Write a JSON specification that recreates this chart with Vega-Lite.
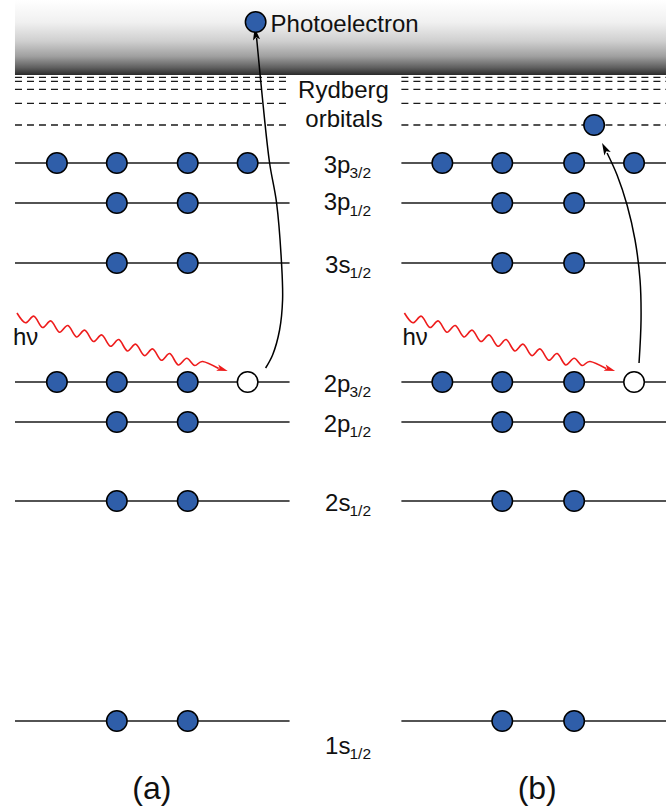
{
  "$schema": "https://vega.github.io/schema/vega-lite/v6.json",
  "width": 667,
  "height": 807,
  "padding": 0,
  "autosize": {"type": "fit", "contains": "padding"},
  "config": {"view": {"stroke": null}, "text": {"font": "Liberation Sans"}},
  "datasets": {
    "band": [{"x": 15, "x2": 667, "y": 0, "y2": 75}],
    "dashed": [
      {"x": 15, "x2": 288, "y": 77.3}, {"x": 15, "x2": 288, "y": 81.3}, {"x": 15, "x2": 288, "y": 89.3}, {"x": 15, "x2": 288, "y": 103.3}, {"x": 15, "x2": 288, "y": 125},
      {"x": 402, "x2": 667, "y": 77.3}, {"x": 402, "x2": 667, "y": 81.3}, {"x": 402, "x2": 667, "y": 89.3}, {"x": 402, "x2": 667, "y": 103.3}, {"x": 402, "x2": 667, "y": 125}
    ],
    "levels": [
      {"x": 15, "x2": 290, "y": 163}, {"x": 15, "x2": 290, "y": 203}, {"x": 15, "x2": 290, "y": 263}, {"x": 15, "x2": 290, "y": 382}, {"x": 15, "x2": 290, "y": 422}, {"x": 15, "x2": 290, "y": 501}, {"x": 15, "x2": 290, "y": 721},
      {"x": 402, "x2": 667, "y": 163}, {"x": 402, "x2": 667, "y": 203}, {"x": 402, "x2": 667, "y": 263}, {"x": 402, "x2": 667, "y": 382}, {"x": 402, "x2": 667, "y": 422}, {"x": 402, "x2": 667, "y": 501}, {"x": 402, "x2": 667, "y": 721}
    ],
    "waves": [
      {"side": "a", "i": 0, "x": 17, "y": 313}, {"side": "a", "i": 1, "x": 25.5, "y": 322.8}, {"side": "a", "i": 2, "x": 34, "y": 316.2}, {"side": "a", "i": 3, "x": 42.5, "y": 327.5}, {"side": "a", "i": 4, "x": 51, "y": 320.9}, {"side": "a", "i": 5, "x": 59.5, "y": 332.2}, {"side": "a", "i": 6, "x": 68, "y": 325.5}, {"side": "a", "i": 7, "x": 76.5, "y": 336.9}, {"side": "a", "i": 8, "x": 85, "y": 330.2}, {"side": "a", "i": 9, "x": 93.5, "y": 341.5}, {"side": "a", "i": 10, "x": 102, "y": 334.9}, {"side": "a", "i": 11, "x": 110.5, "y": 346.2}, {"side": "a", "i": 12, "x": 119, "y": 339.6}, {"side": "a", "i": 13, "x": 127.5, "y": 350.9}, {"side": "a", "i": 14, "x": 136, "y": 344.2}, {"side": "a", "i": 15, "x": 144.5, "y": 355.6}, {"side": "a", "i": 16, "x": 153, "y": 348.9}, {"side": "a", "i": 17, "x": 161.5, "y": 360.2}, {"side": "a", "i": 18, "x": 170, "y": 353.6}, {"side": "a", "i": 19, "x": 178.5, "y": 364.9}, {"side": "a", "i": 20, "x": 187, "y": 358.3}, {"side": "a", "i": 21, "x": 195, "y": 365.5}, {"side": "a", "i": 22, "x": 203, "y": 361.5}, {"side": "a", "i": 23, "x": 219, "y": 368.5},
      {"side": "b", "i": 0, "x": 405, "y": 313}, {"side": "b", "i": 1, "x": 413.5, "y": 322.8}, {"side": "b", "i": 2, "x": 422, "y": 316.2}, {"side": "b", "i": 3, "x": 430.5, "y": 327.5}, {"side": "b", "i": 4, "x": 439, "y": 320.9}, {"side": "b", "i": 5, "x": 447.5, "y": 332.2}, {"side": "b", "i": 6, "x": 456, "y": 325.5}, {"side": "b", "i": 7, "x": 464.5, "y": 336.9}, {"side": "b", "i": 8, "x": 473, "y": 330.2}, {"side": "b", "i": 9, "x": 481.5, "y": 341.5}, {"side": "b", "i": 10, "x": 490, "y": 334.9}, {"side": "b", "i": 11, "x": 498.5, "y": 346.2}, {"side": "b", "i": 12, "x": 507, "y": 339.6}, {"side": "b", "i": 13, "x": 515.5, "y": 350.9}, {"side": "b", "i": 14, "x": 524, "y": 344.2}, {"side": "b", "i": 15, "x": 532.5, "y": 355.6}, {"side": "b", "i": 16, "x": 541, "y": 348.9}, {"side": "b", "i": 17, "x": 549.5, "y": 360.2}, {"side": "b", "i": 18, "x": 558, "y": 353.6}, {"side": "b", "i": 19, "x": 566.5, "y": 364.9}, {"side": "b", "i": 20, "x": 575, "y": 358.3}, {"side": "b", "i": 21, "x": 583, "y": 365.5}, {"side": "b", "i": 22, "x": 591, "y": 361.5}, {"side": "b", "i": 23, "x": 607, "y": 368.5}
    ],
    "arrows": [
      {"side": "a", "i": 0, "x": 266, "y": 368}, {"side": "a", "i": 1, "x": 273, "y": 355}, {"side": "a", "i": 2, "x": 280, "y": 330}, {"side": "a", "i": 3, "x": 283, "y": 300}, {"side": "a", "i": 4, "x": 282, "y": 264}, {"side": "a", "i": 5, "x": 277, "y": 203}, {"side": "a", "i": 6, "x": 270, "y": 163}, {"side": "a", "i": 7, "x": 263, "y": 100}, {"side": "a", "i": 8, "x": 257, "y": 38},
      {"side": "b", "i": 0, "x": 640, "y": 363}, {"side": "b", "i": 1, "x": 642, "y": 320}, {"side": "b", "i": 2, "x": 641, "y": 280}, {"side": "b", "i": 3, "x": 636, "y": 240}, {"side": "b", "i": 4, "x": 628, "y": 205}, {"side": "b", "i": 5, "x": 618, "y": 175}, {"side": "b", "i": 6, "x": 608, "y": 153}
    ],
    "headA": [{"x": 256, "y": 34}],
    "headB": [{"x": 605.7, "y": 148.4}],
    "headRed": [{"x": 222.8, "y": 369.3}, {"x": 610.8, "y": 369.3}],
    "electrons": [
      {"x": 57, "y": 163, "kind": "e"}, {"x": 117, "y": 163, "kind": "e"}, {"x": 188, "y": 163, "kind": "e"}, {"x": 248, "y": 163, "kind": "e"},
      {"x": 117, "y": 203, "kind": "e"}, {"x": 188, "y": 203, "kind": "e"},
      {"x": 117, "y": 263, "kind": "e"}, {"x": 188, "y": 263, "kind": "e"},
      {"x": 57, "y": 382, "kind": "e"}, {"x": 117, "y": 382, "kind": "e"}, {"x": 188, "y": 382, "kind": "e"}, {"x": 248, "y": 382, "kind": "h"},
      {"x": 117, "y": 422, "kind": "e"}, {"x": 188, "y": 422, "kind": "e"},
      {"x": 117, "y": 501, "kind": "e"}, {"x": 188, "y": 501, "kind": "e"},
      {"x": 117, "y": 721, "kind": "e"}, {"x": 188, "y": 721, "kind": "e"},
      {"x": 443, "y": 163, "kind": "e"}, {"x": 503, "y": 163, "kind": "e"}, {"x": 575, "y": 163, "kind": "e"}, {"x": 635, "y": 163, "kind": "e"},
      {"x": 503, "y": 203, "kind": "e"}, {"x": 575, "y": 203, "kind": "e"},
      {"x": 503, "y": 263, "kind": "e"}, {"x": 575, "y": 263, "kind": "e"},
      {"x": 443, "y": 382, "kind": "e"}, {"x": 503, "y": 382, "kind": "e"}, {"x": 575, "y": 382, "kind": "e"}, {"x": 635, "y": 382, "kind": "h"},
      {"x": 503, "y": 422, "kind": "e"}, {"x": 575, "y": 422, "kind": "e"},
      {"x": 503, "y": 501, "kind": "e"}, {"x": 575, "y": 501, "kind": "e"},
      {"x": 503, "y": 721, "kind": "e"}, {"x": 575, "y": 721, "kind": "e"},
      {"x": 595, "y": 125, "kind": "e"},
      {"x": 256, "y": 22, "kind": "e"}
    ],
    "mainLabels": [
      {"x": 351, "y": 173, "label": "3p"}, {"x": 351, "y": 210, "label": "3p"}, {"x": 351, "y": 273, "label": "3s"},
      {"x": 351, "y": 392, "label": "2p"}, {"x": 351, "y": 432, "label": "2p"}, {"x": 351, "y": 511, "label": "2s"}, {"x": 351, "y": 754, "label": "1s"}
    ],
    "subLabels": [
      {"x": 350, "y": 178, "label": "3/2"}, {"x": 350, "y": 216, "label": "1/2"}, {"x": 350, "y": 278, "label": "1/2"},
      {"x": 350, "y": 397, "label": "3/2"}, {"x": 350, "y": 437, "label": "1/2"}, {"x": 350, "y": 516, "label": "1/2"}, {"x": 350, "y": 759, "label": "1/2"}
    ],
    "centerText": [{"x": 344, "y": 98, "label": "Rydberg"}, {"x": 344.5, "y": 127, "label": "orbitals"}],
    "leftText": [{"x": 271, "y": 32, "label": "Photoelectron"}, {"x": 13, "y": 345, "label": "hν"}, {"x": 403, "y": 345, "label": "hν"}],
    "panels": [{"x": 152, "y": 799, "label": "(a)"}, {"x": 538, "y": 799, "label": "(b)"}]
  },
  "layer": [
    {
      "data": {"name": "band"},
      "mark": {"type": "rect", "fill": {"gradient": "linear", "x1": 0, "y1": 0, "x2": 0, "y2": 1, "stops": [
        {"offset": 0, "color": "#ffffff"}, {"offset": 0.3, "color": "#f0f0f0"}, {"offset": 0.55, "color": "#cfcfcf"}, {"offset": 0.75, "color": "#a0a0a0"}, {"offset": 0.9, "color": "#606060"}, {"offset": 1, "color": "#2a2a2a"}]}},
      "encoding": {
        "x": {"field": "x", "type": "quantitative", "scale": {"domain": [0, 667], "nice": false, "zero": false}, "axis": null},
        "x2": {"field": "x2"},
        "y": {"field": "y", "type": "quantitative", "scale": {"domain": [0, 807], "nice": false, "zero": false, "reverse": true}, "axis": null},
        "y2": {"field": "y2"}
      }
    },
    {
      "data": {"name": "dashed"},
      "mark": {"type": "rule", "color": "#1a1a1a", "strokeWidth": 1.3, "strokeDash": [7, 5]},
      "encoding": {
        "x": {"field": "x", "type": "quantitative", "axis": null},
        "x2": {"field": "x2"},
        "y": {"field": "y", "type": "quantitative", "axis": null}
      }
    },
    {
      "data": {"name": "levels"},
      "mark": {"type": "rule", "color": "#1a1a1a", "strokeWidth": 1.4},
      "encoding": {
        "x": {"field": "x", "type": "quantitative", "axis": null},
        "x2": {"field": "x2"},
        "y": {"field": "y", "type": "quantitative", "axis": null}
      }
    },
    {
      "data": {"name": "waves"},
      "mark": {"type": "line", "color": "#ee1c1c", "strokeWidth": 1.6, "interpolate": "cardinal"},
      "encoding": {
        "x": {"field": "x", "type": "quantitative", "axis": null},
        "y": {"field": "y", "type": "quantitative", "axis": null},
        "detail": {"field": "side"},
        "order": {"field": "i", "type": "quantitative"}
      }
    },
    {
      "data": {"name": "arrows"},
      "mark": {"type": "line", "color": "#000000", "strokeWidth": 1.5, "interpolate": "catmull-rom"},
      "encoding": {
        "x": {"field": "x", "type": "quantitative", "axis": null},
        "y": {"field": "y", "type": "quantitative", "axis": null},
        "detail": {"field": "side"},
        "order": {"field": "i", "type": "quantitative"}
      }
    },
    {
      "data": {"name": "headA"},
      "mark": {"type": "point", "shape": "M0,-1L0.6,1L0,0.55L-0.6,1Z", "filled": true, "color": "#000000", "opacity": 1, "size": 144, "angle": 351},
      "encoding": {
        "x": {"field": "x", "type": "quantitative", "axis": null},
        "y": {"field": "y", "type": "quantitative", "axis": null}
      }
    },
    {
      "data": {"name": "headB"},
      "mark": {"type": "point", "shape": "M0,-1L0.6,1L0,0.55L-0.6,1Z", "filled": true, "color": "#000000", "opacity": 1, "size": 144, "angle": 333},
      "encoding": {
        "x": {"field": "x", "type": "quantitative", "axis": null},
        "y": {"field": "y", "type": "quantitative", "axis": null}
      }
    },
    {
      "data": {"name": "headRed"},
      "mark": {"type": "point", "shape": "M0,-1L0.6,1L0,0.55L-0.6,1Z", "filled": true, "color": "#ee1c1c", "opacity": 1, "size": 121, "angle": 108},
      "encoding": {
        "x": {"field": "x", "type": "quantitative", "axis": null},
        "y": {"field": "y", "type": "quantitative", "axis": null}
      }
    },
    {
      "data": {"name": "electrons"},
      "mark": {"type": "point", "shape": "circle", "size": 420, "stroke": "#000000", "strokeWidth": 1.5, "opacity": 1, "filled": true},
      "encoding": {
        "x": {"field": "x", "type": "quantitative", "axis": null},
        "y": {"field": "y", "type": "quantitative", "axis": null},
        "fill": {"field": "kind", "type": "nominal", "scale": {"domain": ["e", "h"], "range": ["#2f5ea9", "#ffffff"]}, "legend": null}
      }
    },
    {
      "data": {"name": "mainLabels"},
      "mark": {"type": "text", "fontSize": 24, "align": "right", "baseline": "alphabetic", "color": "#111111"},
      "encoding": {
        "x": {"field": "x", "type": "quantitative", "axis": null},
        "y": {"field": "y", "type": "quantitative", "axis": null},
        "text": {"field": "label"}
      }
    },
    {
      "data": {"name": "subLabels"},
      "mark": {"type": "text", "fontSize": 15.5, "align": "left", "baseline": "alphabetic", "color": "#111111"},
      "encoding": {
        "x": {"field": "x", "type": "quantitative", "axis": null},
        "y": {"field": "y", "type": "quantitative", "axis": null},
        "text": {"field": "label"}
      }
    },
    {
      "data": {"name": "centerText"},
      "mark": {"type": "text", "fontSize": 24, "align": "center", "baseline": "alphabetic", "color": "#111111"},
      "encoding": {
        "x": {"field": "x", "type": "quantitative", "axis": null},
        "y": {"field": "y", "type": "quantitative", "axis": null},
        "text": {"field": "label"}
      }
    },
    {
      "data": {"name": "leftText"},
      "mark": {"type": "text", "fontSize": 24, "align": "left", "baseline": "alphabetic", "color": "#111111"},
      "encoding": {
        "x": {"field": "x", "type": "quantitative", "axis": null},
        "y": {"field": "y", "type": "quantitative", "axis": null},
        "text": {"field": "label"}
      }
    },
    {
      "data": {"name": "panels"},
      "mark": {"type": "text", "fontSize": 32, "align": "center", "baseline": "alphabetic", "color": "#111111"},
      "encoding": {
        "x": {"field": "x", "type": "quantitative", "axis": null},
        "y": {"field": "y", "type": "quantitative", "axis": null},
        "text": {"field": "label"}
      }
    }
  ]
}
